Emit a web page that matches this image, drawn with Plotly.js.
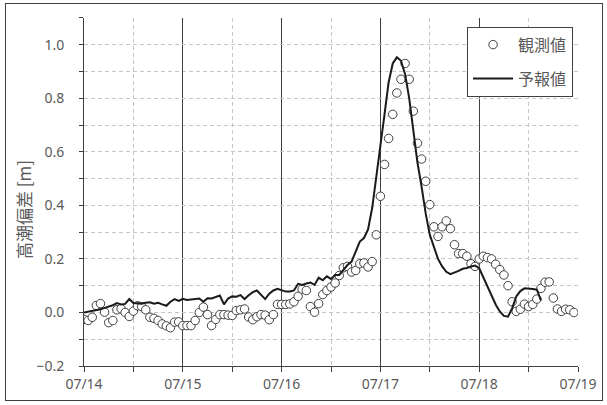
<!DOCTYPE html>
<html>
<head>
<meta charset="utf-8">
<script src="https://cdn.plot.ly/plotly-3.0.1.min.js"></script>
<style>
  html, body { margin: 0; padding: 0; background: #fff; }
  #wrap { position: relative; width: 607px; height: 405px; }
  #chart { position: absolute; left: 0; top: 0; width: 607px; height: 405px; }
  #frame { position: absolute; left: 5px; top: 3px; width: 596px; height: 396px;
           border: 1px solid #404040; pointer-events: none; }
</style>
</head>
<body>
<div id="wrap">
  <div id="chart"></div>
  <div id="frame"></div>
</div>
<script>
// Hourly storm-surge deviation (m), starting 07/14 00:00
const startTime = '2024-07-14 00:00';
const endTime = '2024-07-19 00:00';

// 観測値 (observed), one value per hour
const observed = [
  -0.026, -0.03, -0.018, 0.026, 0.033, 0.001, -0.038, -0.03, 0.01, 0.014,
  0.0, -0.015, 0.005, 0.025, 0.022, 0.01, -0.018, -0.022, -0.03, -0.043,
  -0.05, -0.057, -0.036, -0.035, -0.049, -0.049, -0.049, -0.03, 0.0, 0.02,
  -0.008, -0.049, -0.026, -0.008, -0.008, -0.01, -0.011, 0.007, 0.01, 0.013,
  -0.017, -0.027, -0.016, -0.008, -0.01, -0.027, -0.008, 0.03, 0.03, 0.03,
  0.032, 0.04, 0.06, 0.087, 0.082, 0.022, 0.001, 0.033, 0.067, 0.082,
  0.095, 0.11, 0.138, 0.167, 0.172, 0.151, 0.157, 0.182, 0.185, 0.17,
  0.19, 0.29, 0.434, 0.553, 0.65, 0.74, 0.82, 0.871, 0.93, 0.871,
  0.752, 0.632, 0.573, 0.49, 0.403, 0.32, 0.284, 0.32, 0.342, 0.313,
  0.253, 0.22, 0.22, 0.21, 0.182, 0.172, 0.2, 0.21, 0.205, 0.2,
  0.18, 0.16, 0.14, 0.1, 0.04, 0.004, 0.012, 0.031, 0.022, 0.03,
  0.05, 0.09, 0.113, 0.114, 0.054, 0.013, 0.004, 0.012, 0.01, 0.0
];

// 予報値 (forecast), one value per hour
const forecast = [
  0.0, 0.003, 0.005, 0.008, 0.012, 0.017, 0.021, 0.027, 0.035, 0.03,
  0.032, 0.05, 0.035, 0.035, 0.033, 0.036, 0.038, 0.033, 0.036, 0.03,
  0.025, 0.04, 0.05, 0.043, 0.051, 0.047, 0.049, 0.051, 0.052, 0.04,
  0.053, 0.052, 0.057, 0.063, 0.03, 0.052, 0.06, 0.059, 0.065, 0.05,
  0.064, 0.076, 0.082, 0.066, 0.05, 0.07, 0.082, 0.088, 0.082, 0.078,
  0.078, 0.082, 0.107, 0.103, 0.108, 0.112, 0.103, 0.13, 0.12, 0.135,
  0.125, 0.14, 0.14, 0.158, 0.177, 0.19, 0.225, 0.265, 0.278, 0.31,
  0.39, 0.5, 0.62, 0.74, 0.86, 0.93, 0.953, 0.94, 0.89, 0.8,
  0.68, 0.56, 0.47, 0.37, 0.29, 0.245, 0.2, 0.172, 0.152, 0.143,
  0.148, 0.155, 0.163, 0.166, 0.172, 0.175, 0.165, 0.13, 0.095, 0.06,
  0.03, 0.004, -0.013, -0.016, 0.015, 0.06, 0.08, 0.09, 0.09, 0.088,
  0.085, 0.045
];

const seriesNames = ['観測値', '予報値'];
const yAxisTitle = '高潮偏差 [m]';

const HOUR = 3600 * 1000;
const t0 = new Date(startTime.replace(' ', 'T') + ':00Z').getTime();
function hourly(values) {
  return values.map((_, i) => {
    const d = new Date(t0 + i * HOUR);
    return d.toISOString().slice(0, 16).replace('T', ' ');
  });
}

const gridDash = '4px,3px';
const lightGrid = '#c6c6c6';
const darkLine = '#404040';
const labelColor = '#595959';
const tickFont = { family: 'Noto Sans, Open Sans, sans-serif', size: 14, color: labelColor };

const traces = [
  {
    name: seriesNames[0],
    x: hourly(observed),
    y: observed,
    mode: 'markers',
    type: 'scatter',
    marker: { symbol: 'circle', size: 8.5, color: '#ffffff', line: { color: '#404040', width: 1 } },
    legendgroup: 'obs'
  },
  {
    name: seriesNames[1],
    x: hourly(forecast),
    y: forecast,
    mode: 'lines',
    type: 'scatter',
    line: { color: '#1a1a1a', width: 2 },
    legendgroup: 'fc'
  }
];

const layout = {
  width: 607,
  height: 405,
  margin: { l: 84, r: 29, t: 18, b: 39 },
  paper_bgcolor: '#ffffff',
  plot_bgcolor: '#ffffff',
  showlegend: true,
  legend: {
    x: 0.99, xanchor: 'right',
    y: 0.975, yanchor: 'top',
    bgcolor: '#ffffff',
    bordercolor: darkLine,
    borderwidth: 1,
    itemwidth: 40,
    font: { family: 'Noto Sans CJK JP, sans-serif', size: 16, color: labelColor },
    tracegroupgap: 10
  },
  xaxis: {
    type: 'date',
    range: [startTime, endTime],
    tick0: startTime,
    dtick: 24 * HOUR,
    tickformat: '%m/%d',
    ticks: 'outside',
    ticklen: 5,
    tickcolor: darkLine,
    tickfont: tickFont,
    showgrid: true,
    gridcolor: darkLine,
    gridwidth: 1,
    showline: true,
    linecolor: darkLine,
    linewidth: 1,
    zeroline: false,
    minor: {
      dtick: 12 * HOUR,
      ticks: 'outside',
      ticklen: 5,
      tickcolor: darkLine,
      showgrid: true,
      gridcolor: lightGrid,
      griddash: gridDash
    }
  },
  yaxis: {
    range: [-0.2, 1.0999],
    tick0: -0.2,
    dtick: 0.2,
    tickformat: '.1f',
    ticks: 'outside',
    ticklen: 4,
    tickcolor: darkLine,
    tickfont: tickFont,
    ticklabelstandoff: 12,
    showgrid: true,
    gridcolor: lightGrid,
    griddash: gridDash,
    showline: true,
    linecolor: darkLine,
    linewidth: 1,
    zeroline: false,
    minor: {
      dtick: 0.1,
      tick0: -0.2,
      ticks: 'outside',
      ticklen: 4,
      tickcolor: darkLine,
      showgrid: true,
      gridcolor: lightGrid,
      griddash: gridDash
    }
  },
  annotations: [
    {
      text: yAxisTitle,
      xref: 'paper', yref: 'paper',
      x: -0.1235, y: 0.451,
      xanchor: 'center', yanchor: 'middle',
      textangle: -90,
      showarrow: false,
      font: { family: 'Noto Sans CJK JP, sans-serif', size: 17, color: labelColor }
    }
  ]
};

Plotly.newPlot('chart', traces, layout, { displayModeBar: false, staticPlot: true });
</script>
</body>
</html>
